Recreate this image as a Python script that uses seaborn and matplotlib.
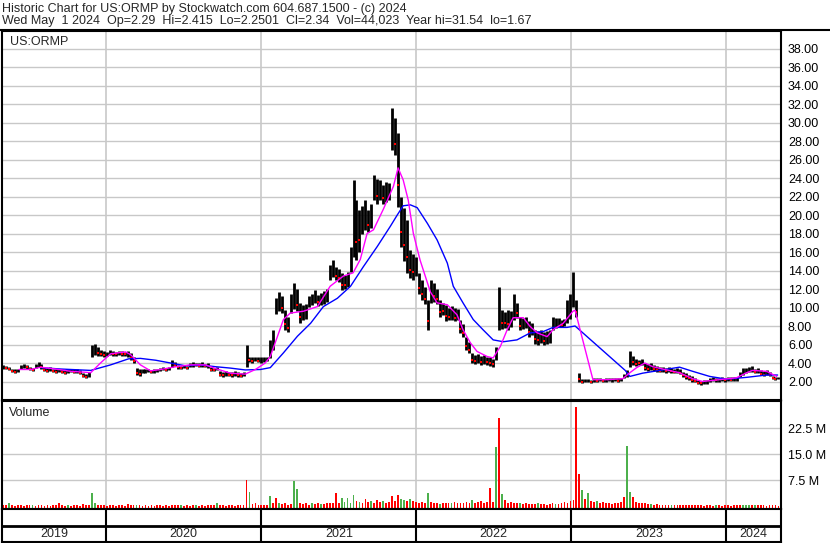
import numpy as np
import pandas as pd
import matplotlib
matplotlib.use("Agg")
import matplotlib.pyplot as plt
import seaborn as sns

# weekly price ranges (first week starting 2019-05-03)
week_start = "2019-05-03"
price_hi = [
    3.8, 3.7, 3.6, 3.4, 3.3, 3.4, 3.8, 3.9, 3.8, 3.6,
    3.5, 3.9, 4.1, 3.9, 3.6, 3.5, 3.6, 3.4, 3.3, 3.4,
    3.3, 3.2, 3.3, 3.4, 3.3, 3.3, 3.2, 2.9, 2.8, 3.0,
    5.9, 6.1, 5.7, 5.4, 5.3, 5.2, 5.4, 5.3, 5.2, 5.35,
    5.3, 5.2, 5.3, 5.1, 4.6, 3.5, 3.4, 3.3, 3.4, 3.3,
    3.2, 3.3, 3.4, 3.5, 3.6, 3.5, 3.6, 4.3, 4.1, 3.8,
    3.7, 3.8, 3.7, 4.0, 4.1, 4.0, 4.0, 4.1, 3.9, 4.0,
    3.6, 3.5, 3.6, 3.1, 3.0, 3.1, 3.0, 3.0, 3.1, 3.0,
    2.9, 3.0, 5.9, 4.7, 4.6, 4.7, 4.6, 4.7, 4.6, 4.7,
    6.5, 7.6, 11.0, 11.7, 11.2, 9.7, 9.0, 11.5, 12.7, 12.0,
    10.5, 10.3, 10.4, 11.2, 11.5, 11.9, 11.4, 11.6, 11.8, 12.0,
    14.6, 15.1, 14.4, 14.2, 13.7, 13.5, 13.8, 16.5, 23.8, 21.6,
    20.5, 21.0, 21.6, 20.5, 21.2, 24.3, 23.9, 23.8, 23.2, 23.6,
    23.5, 31.6, 30.5, 28.9, 22.0, 20.8, 19.5, 16.2, 15.8, 15.5,
    13.7, 13.0, 12.2, 10.8, 13.0, 12.6, 12.0, 10.8, 10.5, 10.3,
    10.0, 10.2, 9.9, 9.8, 8.7, 8.2, 6.8, 6.3, 5.1, 4.9,
    5.0, 4.8, 4.9, 4.7, 4.6, 4.4, 5.75, 12.2, 9.75, 9.5,
    9.7, 9.6, 11.5, 10.5, 9.0, 8.9, 9.0, 8.5, 8.3, 7.6,
    7.5, 7.6, 7.4, 7.5, 7.6, 9.0, 8.9, 8.9, 8.7, 8.8,
    10.8, 11.5, 13.8, 10.8, 2.95, 2.3, 2.25, 2.3, 2.2, 2.4,
    2.35, 2.4, 2.3, 2.4, 2.35, 2.4, 2.4, 2.35, 2.4, 2.8,
    3.25, 5.25, 4.8, 4.45, 4.3, 4.4, 4.0, 3.9, 4.0, 3.8,
    3.7, 3.6, 3.6, 3.5, 3.6, 3.5, 3.4, 3.5, 3.3, 3.0,
    2.9, 2.7, 2.6, 2.4, 2.2, 2.1, 2.2, 2.2, 2.4, 2.5,
    2.4, 2.4, 2.5, 2.4, 2.5, 2.45, 2.5, 2.5, 3.0, 3.5,
    3.5, 3.6, 3.7, 3.4, 3.5, 3.25, 3.1, 3.2, 3.0, 2.6,
    2.5, 2.45,
]
price_lo = [
    3.4, 3.3, 3.2, 3.0, 2.9, 3.0, 3.4, 3.5, 3.4, 3.2,
    3.1, 3.5, 3.6, 3.4, 3.1, 3.0, 3.1, 3.0, 2.9, 3.0,
    2.9, 2.8, 2.9, 3.0, 2.9, 2.9, 2.8, 2.5, 2.4, 2.5,
    4.6, 4.9, 4.8, 4.8, 4.7, 4.8, 4.9, 4.8, 4.8, 4.9,
    4.8, 4.8, 4.7, 4.3, 4.0, 2.7, 2.6, 2.9, 2.9, 3.0,
    2.9, 2.9, 3.0, 3.1, 3.2, 3.1, 3.2, 3.6, 3.7, 3.4,
    3.4, 3.5, 3.4, 3.6, 3.6, 3.7, 3.6, 3.6, 3.6, 3.5,
    3.1, 3.1, 3.2, 2.6, 2.5, 2.6, 2.6, 2.5, 2.6, 2.5,
    2.5, 2.6, 3.6, 4.1, 4.0, 4.2, 4.1, 4.0, 4.1, 4.2,
    4.5, 5.4, 9.3, 9.6, 9.4, 7.6, 7.3, 9.4, 9.8, 9.6,
    8.3, 8.6, 8.8, 10.1, 10.3, 10.5, 10.2, 10.3, 10.4, 10.6,
    13.0, 13.3, 13.0, 12.8, 11.9, 12.0, 12.2, 13.8, 15.5, 15.1,
    16.0, 18.0, 18.4, 18.2, 18.6, 21.6, 21.2, 21.6, 21.2, 21.4,
    21.6, 27.0, 26.5, 20.9, 16.5, 15.0, 13.7, 13.2, 13.0, 13.4,
    11.5, 10.8, 10.4, 7.6, 10.5, 10.6, 10.4, 9.0, 9.2, 8.5,
    8.6, 8.7, 8.5, 8.6, 7.2, 6.8, 5.4, 5.1, 4.0, 3.9,
    4.0, 3.8, 3.9, 3.8, 3.7, 3.6, 4.3, 7.6, 7.7, 7.8,
    7.6, 7.9, 8.7, 8.9, 7.6, 7.7, 7.8, 6.8, 7.0, 6.1,
    6.0, 6.2, 6.0, 6.1, 6.2, 7.6, 7.8, 7.9, 7.9, 8.0,
    8.3, 8.8, 10.1, 9.0, 2.0, 1.85, 1.9, 1.9, 1.85, 2.0,
    2.0, 2.05, 2.0, 2.0, 2.05, 2.0, 2.05, 2.0, 2.1, 2.4,
    2.5, 3.6, 3.8, 3.7, 3.8, 3.8, 3.2, 3.1, 3.2, 3.1,
    3.05, 3.0, 3.0, 2.95, 3.0, 2.95, 2.9, 2.9, 2.8, 2.5,
    2.3, 2.2, 2.0, 1.9, 1.7, 1.65, 1.7, 1.75, 2.0, 2.05,
    2.0, 2.0, 2.1, 2.0, 2.1, 2.05, 2.1, 2.1, 2.5, 2.7,
    2.9, 3.0, 3.0, 2.9, 2.9, 2.7, 2.6, 2.7, 2.6, 2.3,
    2.2, 2.25,
]
# weekly volume, millions of shares
volume_m = [
    0.3, 0.3, 0.8, 0.3, 0.2, 0.3, 0.3, 0.2, 0.3, 0.3,
    0.3, 0.2, 0.3, 0.3, 0.2, 0.3, 0.2, 0.3, 0.3, 0.8,
    0.3, 0.2, 0.3, 0.2, 0.3, 0.3, 0.2, 0.6, 0.3, 0.3,
    3.7, 0.8, 0.5, 0.3, 0.3, 0.2, 0.3, 0.3, 0.2, 0.3,
    0.3, 0.2, 0.6, 0.3, 0.3, 0.4, 0.3, 0.2, 0.3, 0.2,
    0.3, 0.2, 0.3, 0.3, 0.2, 0.3, 0.2, 0.3, 0.5, 0.3,
    0.3, 0.2, 0.3, 0.2, 0.3, 0.3, 0.2, 0.3, 0.2, 0.3,
    0.3, 0.5, 1.0, 0.5, 0.3, 0.2, 0.3, 0.3, 0.2, 0.3,
    0.3, 0.4, 7.7, 4.2, 0.6, 1.0, 0.5, 0.4, 0.3, 0.4,
    3.1, 0.8, 2.5, 1.0, 0.6, 0.8, 0.5, 0.6, 7.4, 5.0,
    0.8, 0.6, 0.8, 0.5, 1.0, 0.6, 0.8, 0.7, 0.6, 0.9,
    0.8, 1.0, 3.9, 0.9, 2.3, 1.2, 2.3, 1.0, 3.2, 1.4,
    1.2, 1.0, 2.0, 1.2, 1.6, 1.0, 1.7, 1.2, 1.4, 1.0,
    1.3, 3.1, 1.5, 3.2, 2.0, 1.8, 1.5, 2.0, 1.6, 1.2,
    1.0, 1.2, 0.9, 3.9, 1.2, 0.8, 1.0, 0.7, 0.9, 0.8,
    1.0, 0.8, 1.2, 0.9, 0.8, 1.0, 1.1, 0.8, 1.8, 1.0,
    1.2, 1.5, 1.0, 1.3, 5.2, 1.2, 17.2, 25.6, 3.5, 1.8,
    1.0, 1.2, 0.8, 1.0, 0.9, 0.7, 0.8, 0.6, 0.7, 0.6,
    0.8, 0.6, 0.7, 0.5, 0.6, 0.8, 0.6, 0.7, 0.9, 1.2,
    1.0, 1.4, 1.8, 28.7, 9.4, 4.8, 2.0, 3.7, 1.5, 1.2,
    1.4, 1.0, 1.2, 0.8, 0.9, 0.7, 0.8, 1.0, 1.2, 2.8,
    17.4, 4.1, 2.8, 1.2, 1.0, 0.8, 0.9, 0.7, 0.6, 0.5,
    0.6, 0.5, 0.4, 0.5, 0.4, 0.3, 0.4, 0.3, 0.4, 0.3,
    0.4, 0.3, 0.3, 0.4, 0.3, 0.3, 0.2, 0.3, 0.3, 0.2,
    0.3, 0.3, 0.2, 0.3, 0.3, 0.2, 0.3, 0.3, 0.4, 0.5,
    0.5, 0.4, 0.4, 0.3, 0.4, 0.3, 0.3, 0.2, 0.3, 0.3,
    0.3, 0.2,
]
# weeks whose volume bar is an up (green) bar
green_weeks = [2, 10, 22, 30, 31, 45, 60, 65, 72, 83, 90, 93, 98, 99, 104,
               107, 114, 115, 116, 117, 118, 120, 124, 128, 134, 135, 137,
               143, 147, 151, 158, 166, 168, 174, 180, 186, 195, 197, 200,
               210, 211, 218, 225, 240, 249, 250, 251, 253]

# moving averages
fast_ma_dates = [
    "2019-06-10", "2019-07-08", "2019-07-31", "2019-09-04", "2019-10-10",
    "2019-11-14", "2019-11-26", "2019-12-19", "2020-01-12", "2020-02-16",
    "2020-02-28", "2020-03-22", "2020-04-15", "2020-05-09", "2020-06-13",
    "2020-07-18", "2020-08-22", "2020-09-15", "2020-10-20", "2020-11-24",
    "2020-12-18", "2021-01-10", "2021-01-22", "2021-02-22", "2021-03-10",
    "2021-04-10", "2021-05-13", "2021-06-12", "2021-07-13", "2021-08-05",
    "2021-08-22", "2021-09-07", "2021-09-22", "2021-10-15", "2021-11-08",
    "2021-11-19", "2021-12-01", "2021-12-13", "2021-12-25", "2022-01-10",
    "2022-02-03", "2022-02-19", "2022-03-15", "2022-04-07", "2022-04-21",
    "2022-05-08", "2022-05-24", "2022-06-17", "2022-07-01", "2022-07-18",
    "2022-08-03", "2022-08-17", "2022-09-10", "2022-09-26", "2022-10-13",
    "2022-11-05", "2022-11-19", "2022-12-13", "2023-01-05", "2023-01-10",
    "2023-02-21", "2023-03-28", "2023-05-02", "2023-05-19", "2023-06-04",
    "2023-06-23", "2023-07-12", "2023-08-14", "2023-09-13", "2023-10-14",
    "2023-11-06", "2023-12-16", "2024-01-25", "2024-02-18", "2024-03-03",
    "2024-04-05", "2024-04-29",
]
fast_ma = [
    3.3, 3.3, 3.55, 3.35, 3.1,
    3.0, 2.95, 4.0, 5.0, 5.2,
    4.9, 3.8, 3.15, 3.3, 3.6,
    3.8, 3.8, 3.4, 2.9, 2.8,
    3.3, 4.0, 4.7, 8.7, 9.4,
    9.6, 10.1, 12.3, 13.4, 13.75,
    15.2, 18.0, 18.4, 20.6, 23.1,
    25.1, 23.8, 21.6, 18.0, 15.1,
    11.7, 10.5, 10.3, 9.2, 7.6,
    6.2, 5.25, 4.7, 4.55, 5.8,
    7.6, 8.9, 8.9, 7.95, 7.25,
    6.85, 7.6, 8.3, 9.6, 9.7,
    2.2, 2.2, 2.3, 2.95, 3.5,
    4.0, 3.6, 3.25, 2.95, 2.3,
    2.0, 2.2, 2.4, 2.95, 3.2,
    3.1, 2.55,
]
slow_ma_dates = [
    "2019-07-31", "2019-09-16", "2019-11-02", "2019-11-26", "2020-01-12",
    "2020-02-23", "2020-03-22", "2020-04-27", "2020-06-01", "2020-07-06",
    "2020-08-10", "2020-09-15", "2020-10-20", "2020-11-24", "2020-12-30",
    "2021-01-22", "2021-02-22", "2021-03-27", "2021-04-27", "2021-05-27",
    "2021-06-29", "2021-07-30", "2021-08-29", "2021-10-01", "2021-11-01",
    "2021-11-17", "2021-12-01", "2021-12-18", "2022-01-03", "2022-01-27",
    "2022-02-19", "2022-03-15", "2022-03-29", "2022-04-21", "2022-05-15",
    "2022-06-07", "2022-07-01", "2022-07-25", "2022-08-26", "2022-09-26",
    "2022-10-27", "2022-11-19", "2022-12-22", "2023-01-10", "2023-05-08",
    "2023-05-19", "2023-06-18", "2023-07-28", "2023-09-13", "2023-10-14",
    "2023-11-23", "2024-01-02", "2024-02-18", "2024-04-05", "2024-05-01",
]
slow_ma = [
    3.5, 3.35, 3.25, 3.2, 3.8,
    4.45, 4.5, 4.3, 4.0, 3.7,
    3.8, 3.6, 3.45, 3.25, 3.3,
    3.5, 5.1, 6.9, 8.3, 10.1,
    11.0, 12.3, 14.4, 16.6, 18.8,
    20.0, 21.0, 21.1, 20.8, 19.1,
    17.3, 14.8, 12.3, 10.5, 8.7,
    7.6, 6.5, 6.3, 6.5, 7.25,
    7.4, 7.85, 7.85, 8.0, 3.2,
    2.55, 2.9, 3.2, 3.55, 3.1,
    2.55, 2.25, 2.45, 2.7, 2.7,
]

year_starts = ["2020-01-01", "2021-01-01", "2022-01-01", "2023-01-01", "2024-01-01"]
year_labels = ["2019", "2020", "2021", "2022", "2023", "2024"]
price_ticks = list(range(2, 40, 2))
volume_ticks = [7.5, 15.0, 22.5]

header_1 = "Historic Chart for US:ORMP by Stockwatch.com 604.687.1500 - (c) 2024"
header_2 = ("Wed May  1 2024  Op=2.29  Hi=2.415  Lo=2.2501  Cl=2.34  "
            "Vol=44,023  Year hi=31.54  lo=1.67")

# ---------------------------------------------------------------------------
sns.set_style("white")
plt.rcParams["font.family"] = ["Liberation Sans", "DejaVu Sans"]
plt.rcParams["font.size"] = 9

dates = pd.date_range(week_start, periods=len(price_hi), freq="7D")
df = pd.DataFrame({"date": dates, "hi": price_hi, "lo": price_lo, "vol": volume_m})
mid = (df["hi"] + df["lo"]) / 2
df["down"] = mid < mid.shift(1)
df["up_vol"] = df.index.isin(green_weeks)

fast = pd.DataFrame({"date": pd.to_datetime(fast_ma_dates), "ma": fast_ma})
slow = pd.DataFrame({"date": pd.to_datetime(slow_ma_dates), "ma": slow_ma})

x_left = pd.Timestamp("2019-05-01")
x_right = pd.Timestamp("2024-05-09")
years = pd.to_datetime(year_starts)

W, H = 830, 543
fig = plt.figure(figsize=(W / 100, H / 100), dpi=100)
ax_p = fig.add_axes([2 / W, (H - 400) / H, 779 / W, 369 / H])
ax_v = fig.add_axes([2 / W, (H - 509) / H, 779 / W, 108 / H])
ax_s = fig.add_axes([2 / W, 1 / H, 779 / W, 33 / H])

grid_c = "#c8c8c8"

# price panel
for y in price_ticks:
    ax_p.axhline(y, color=grid_c, lw=1, zorder=0)
for d in years:
    ax_p.axvline(d, color=grid_c, lw=1.2, zorder=0)
ax_p.vlines(df["date"], df["lo"], df["hi"], color="black", lw=2.0, zorder=2)
dn = df[df["down"]]
ax_p.scatter(dn["date"], dn["lo"] + 0.3 * (dn["hi"] - dn["lo"]), s=3,
             color="#ff0000", marker="s", linewidths=0, zorder=3)
sns.lineplot(data=slow, x="date", y="ma", color="#0000ff", lw=1.0,
             estimator=None, sort=False, ax=ax_p, zorder=4)
sns.lineplot(data=fast, x="date", y="ma", color="#ff00ff", lw=1.0,
             estimator=None, sort=False, ax=ax_p, zorder=5)
ax_p.set_xlim(x_left, x_right)
ax_p.set_ylim(0, 39.9)
ax_p.set_yticks(price_ticks)
ax_p.set_yticklabels([f"{v:.2f}" for v in price_ticks])
ax_p.yaxis.tick_right()
ax_p.tick_params(axis="y", length=0, pad=5, labelsize=9, colors="black")
ax_p.set_xticks([])
ax_p.set_xlabel("")
ax_p.set_ylabel("")
ax_p.text(0.0105, 0.970, "US:ORMP", transform=ax_p.transAxes,
          ha="left", va="center", fontsize=9)

# volume panel
vol_base = -0.8
for y in volume_ticks:
    ax_v.axhline(y, color=grid_c, lw=1, zorder=0)
for d in years:
    ax_v.axvline(d, color=grid_c, lw=1.2, zorder=0)
bar_colors = np.where(df["up_vol"], "#4cb04c", "#ff0000")
ax_v.bar(df["date"], df["vol"] - vol_base, bottom=vol_base, width=4.2,
         color=bar_colors, linewidth=0, zorder=2)
ax_v.set_xlim(x_left, x_right)
ax_v.set_ylim(vol_base, 30.4)
ax_v.set_yticks(volume_ticks)
ax_v.set_yticklabels([f"{v:.1f} M" for v in volume_ticks])
ax_v.yaxis.tick_right()
ax_v.tick_params(axis="y", length=0, pad=5, labelsize=9, colors="black")
ax_v.set_xticks([])
ax_v.text(0.009, 0.889, "Volume", transform=ax_v.transAxes,
          ha="left", va="center", fontsize=9)

# year strip
bounds = [x_left] + list(years) + [x_right]
ax_s.set_xlim(x_left, x_right)
ax_s.set_ylim(0, 1)
for d in years:
    ax_s.axvline(d, color="black", lw=1.5)
ax_s.axhline(0.485, color="black", lw=2)
for lab, a, b in zip(year_labels, bounds[:-1], bounds[1:]):
    ax_s.text(a + (b - a) / 2, 0.24, lab, ha="center", va="center", fontsize=9)
ax_s.set_xticks([])
ax_s.set_yticks([])

for ax in (ax_p, ax_v, ax_s):
    for sp in ax.spines.values():
        sp.set_color("black")
        sp.set_linewidth(1.5)
        sp.set_visible(True)

fig.text(2 / W, 1 - 9 / H, header_1, ha="left", va="center", fontsize=9)
fig.text(2 / W, 1 - 21 / H, header_2, ha="left", va="center", fontsize=9)
fig.add_artist(plt.Line2D([0, 1], [1 - 30 / H, 1 - 30 / H], color="black", lw=1.5))

fig.savefig("out.png", dpi=100)
